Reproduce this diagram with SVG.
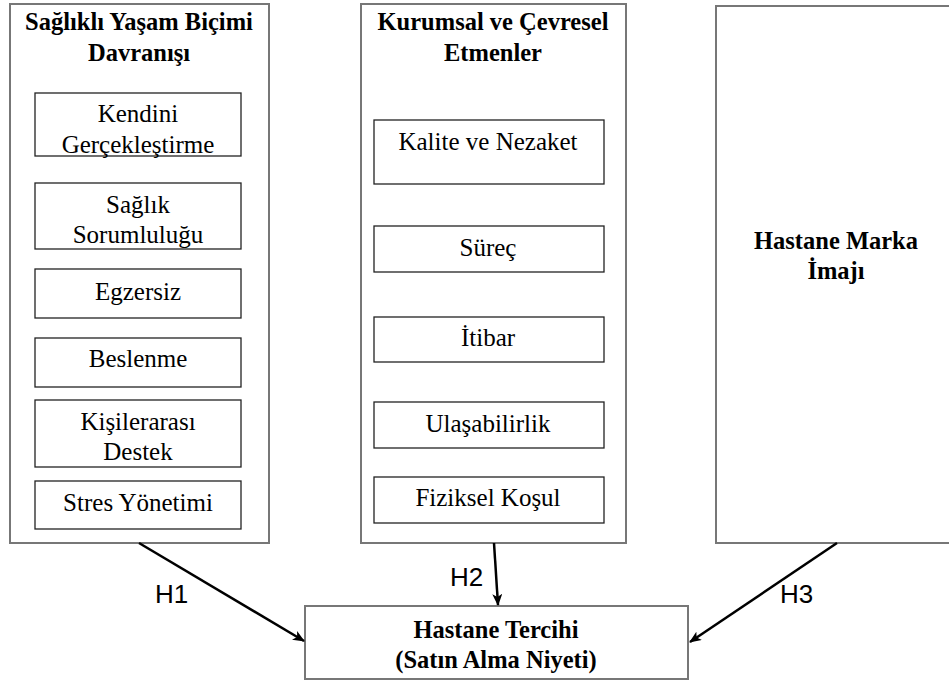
<svg xmlns="http://www.w3.org/2000/svg" width="949" height="680" viewBox="0 0 949 680">
<defs>
<marker id="ah" viewBox="0 0 12 10" refX="11" refY="5" markerWidth="12" markerHeight="10" markerUnits="userSpaceOnUse" orient="auto">
<path d="M0,0 L12,5 L0,10 L3,5 Z" fill="#000"/>
</marker>
<style>
.outer{fill:#fff;stroke:#777;stroke-width:2}
.inner{fill:#fff;stroke:#222;stroke-width:1.3}
.h{font-family:'Liberation Serif','DejaVu Serif',serif;font-weight:bold;font-size:24.5px;text-anchor:middle;fill:#000}
.t{font-family:'Liberation Serif','DejaVu Serif',serif;font-size:25px;text-anchor:middle;fill:#000}
.lbl{font-family:'Liberation Sans',Arial,sans-serif;font-size:26px;fill:#000}
.conn{stroke:#000;stroke-width:2.5;fill:none}
</style>
</defs>
<rect width="949" height="680" fill="#fff"/>
<g id="saglikli">
<rect class="outer" x="10" y="4" width="259" height="539"/>
<text class="h" x="139" y="30">Sağlıklı Yaşam Biçimi</text>
<text class="h" x="139" y="61">Davranışı</text>
</g>
<g id="kendini"><rect class="inner" x="35" y="93" width="206" height="63"/><text class="t" x="138" y="122">Kendini</text><text class="t" x="138" y="153">Gerçekleştirme</text></g>
<g id="saglik-sorumlulugu"><rect class="inner" x="35" y="183" width="206" height="66"/><text class="t" x="138" y="213">Sağlık</text><text class="t" x="138" y="243">Sorumluluğu</text></g>
<g id="egzersiz"><rect class="inner" x="35" y="269" width="206" height="49"/><text class="t" x="138" y="300">Egzersiz</text></g>
<g id="beslenme"><rect class="inner" x="35" y="338" width="206" height="49"/><text class="t" x="138" y="367">Beslenme</text></g>
<g id="kisilerarasi"><rect class="inner" x="35" y="400" width="206" height="67"/><text class="t" x="138" y="430">Kişilerarası</text><text class="t" x="138" y="460">Destek</text></g>
<g id="stres"><rect class="inner" x="35" y="481" width="206" height="48"/><text class="t" x="138" y="511">Stres Yönetimi</text></g>

<g id="kurumsal">
<rect class="outer" x="361" y="4" width="265" height="539"/>
<text class="h" x="493" y="30">Kurumsal ve Çevresel</text>
<text class="h" x="493" y="61">Etmenler</text>
</g>
<g id="kalite"><rect class="inner" x="374" y="120" width="230" height="64"/><text class="t" x="488" y="150">Kalite ve Nezaket</text></g>
<g id="surec"><rect class="inner" x="374" y="226" width="230" height="46"/><text class="t" x="488" y="256">Süreç</text></g>
<g id="itibar"><rect class="inner" x="374" y="317" width="230" height="45"/><text class="t" x="488" y="346">İtibar</text></g>
<g id="ulasabilirlik"><rect class="inner" x="374" y="402" width="230" height="46"/><text class="t" x="488" y="432">Ulaşabilirlik</text></g>
<g id="fiziksel"><rect class="inner" x="374" y="477" width="230" height="46"/><text class="t" x="488" y="506">Fiziksel Koşul</text></g>

<g id="marka">
<rect class="outer" x="716" y="6" width="240" height="537"/>
<text class="h" x="836" y="249">Hastane Marka</text>
<text class="h" x="836" y="279">İmajı</text>
</g>

<g id="tercih">
<rect class="outer" x="305" y="606" width="383" height="73"/>
<text class="h" x="496" y="638">Hastane Tercihi</text>
<text class="h" x="496" y="668">(Satın Alma Niyeti)</text>
</g>

<g id="connectors">
<line class="conn" x1="139" y1="543" x2="304" y2="641" marker-end="url(#ah)"/>
<line class="conn" x1="494" y1="543" x2="498" y2="605" marker-end="url(#ah)"/>
<line class="conn" x1="837" y1="543" x2="690" y2="642" marker-end="url(#ah)"/>
<text class="lbl" x="155" y="603">H1</text>
<text class="lbl" x="450" y="586">H2</text>
<text class="lbl" x="780" y="603">H3</text>
</g>
</svg>
